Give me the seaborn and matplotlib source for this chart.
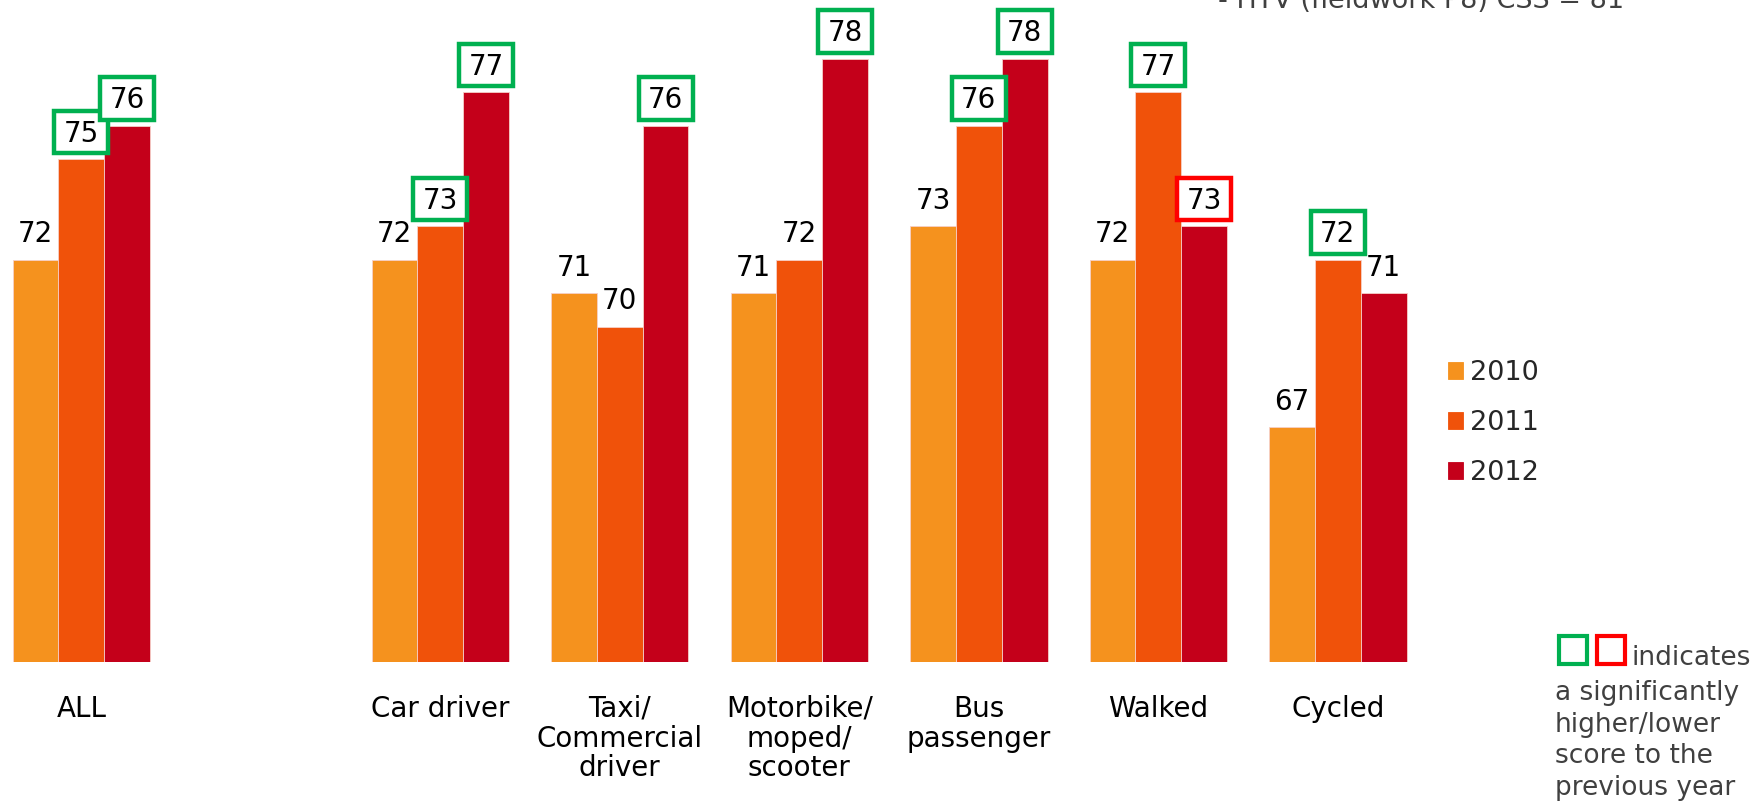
import matplotlib
matplotlib.use("Agg")
import matplotlib.pyplot as plt
from matplotlib.patches import Rectangle
import pandas as pd
import seaborn as sns

# Customer satisfaction scores by mode of travel
categories = ["ALL", "Car driver", "Taxi/\nCommercial\ndriver",
              "Motorbike/\nmoped/\nscooter", "Bus\npassenger", "Walked", "Cycled"]
years = ["2010", "2011", "2012"]
scores_2010 = [72, 72, 71, 71, 73, 72, 67]
scores_2011 = [75, 73, 70, 72, 76, 77, 72]
scores_2012 = [76, 77, 76, 78, 78, 73, 71]
# significance vs previous year: "up" higher, "down" lower, "" none
sig_2010 = ["", "", "", "", "", "", ""]
sig_2011 = ["up", "up", "", "", "up", "up", "up"]
sig_2012 = ["up", "up", "up", "up", "up", "down", ""]
top_note = "- HTV (fieldwork P8) CSS = 81"
key_lines = ["indicates", "a significantly", "higher/lower", "score to the", "previous year"]

colors = ["#F5921E", "#F0520A", "#C4001A"]
sig_colors = {"up": "#00B050", "down": "#FF0000"}
text_grey = "#404040"

scores = {"2010": scores_2010, "2011": scores_2011, "2012": scores_2012}
sigs = {"2010": sig_2010, "2011": sig_2011, "2012": sig_2012}

rows = []
for yr in years:
    for cat, val in zip(categories, scores[yr]):
        rows.append({"category": cat, "year": yr, "score": val})
df = pd.DataFrame(rows)

# a spacer slot separates the overall score from the individual modes
order = [categories[0], " "] + categories[1:]

sns.set_theme(style="white")
plt.rcParams["font.family"] = ["DejaVu Sans"]

fig = plt.figure(figsize=(17.64, 8.02), dpi=100)
ax = fig.add_axes([0.0, 0.175, 1.0, 0.825])

sns.barplot(data=df, x="category", y="score", hue="year", order=order,
            hue_order=years, palette=colors, saturation=1, width=0.765,
            edgecolor="#F6D0C8", linewidth=0.6, ax=ax)

ax.set_ylim(60, 79.75)
ax.set_xlim(-0.453, 9.374)
for s in ax.spines.values():
    s.set_visible(False)
ax.set_yticks([])
ax.set_xlabel("")
ax.set_ylabel("")
ax.tick_params(axis="x", length=0, pad=24)
ax.set_xticks(range(len(order)))
ax.set_xticklabels(order, fontsize=20, linespacing=1.07,
                   family=["Liberation Sans Narrow", "DejaVu Sans Condensed", "DejaVu Sans"],
                   color="black")

# value labels, boxed where the change is significant
box_w, box_h = 0.30, 1.27
label_off = 0.76
for yr, cont in zip(years, ax.containers):
    bars = sorted(cont.patches, key=lambda b: b.get_x())
    for bar, flag in zip(bars, sigs[yr]):
        xc = bar.get_x() + bar.get_width() / 2
        h = bar.get_height()
        yc = h + label_off
        ax.text(xc, yc, f"{h:.0f}", ha="center", va="center",
                fontsize=20, color="black")
        if flag:
            bc = yc + 0.05
            ax.add_patch(Rectangle((xc - box_w / 2, bc - box_h / 2), box_w, box_h,
                                   facecolor="white", edgecolor=sig_colors[flag],
                                   linewidth=3.2, zorder=2.5, clip_on=False))

for t in ax.texts:
    t.set_zorder(3)

# legend
old = ax.get_legend()
handles = old.legend_handles
labels = [t.get_text() for t in old.get_texts()]
old.remove()
for hnd, c in zip(handles, colors):
    hnd.set_edgecolor(c)
ax.legend(handles, labels, loc="upper left",
          bbox_to_anchor=(1448 / 1764, 1 - 360 / 802), bbox_transform=fig.transFigure,
          frameon=False, fontsize=19.5, handlelength=0.55, handleheight=0.55,
          handletextpad=0.25, labelspacing=0.89, borderpad=0, borderaxespad=0)

# note at the top (partly above the frame)
fig.text(1218 / 1764, 1 - 7.5 / 802, top_note, ha="left", va="baseline",
         fontsize=19.5, color=text_grey)

# significance key
W, H = 1764, 802
for x0, c in [(1558.7, sig_colors["up"]), (1597, sig_colors["down"])]:
    fig.add_artist(Rectangle((x0 / W, 1 - 664 / H), 28 / W, 28 / H,
                             transform=fig.transFigure, facecolor="none",
                             edgecolor=c, linewidth=3.0))
fig.text(1631 / W, 1 - 665 / H, key_lines[0], ha="left", va="baseline",
         fontsize=19, color=text_grey)
for i, line in enumerate(key_lines[1:]):
    fig.text(1555 / W, 1 - (700 + 31.7 * i) / H, line, ha="left", va="baseline",
             fontsize=19, color=text_grey)

fig.savefig("out.png", dpi=100)
